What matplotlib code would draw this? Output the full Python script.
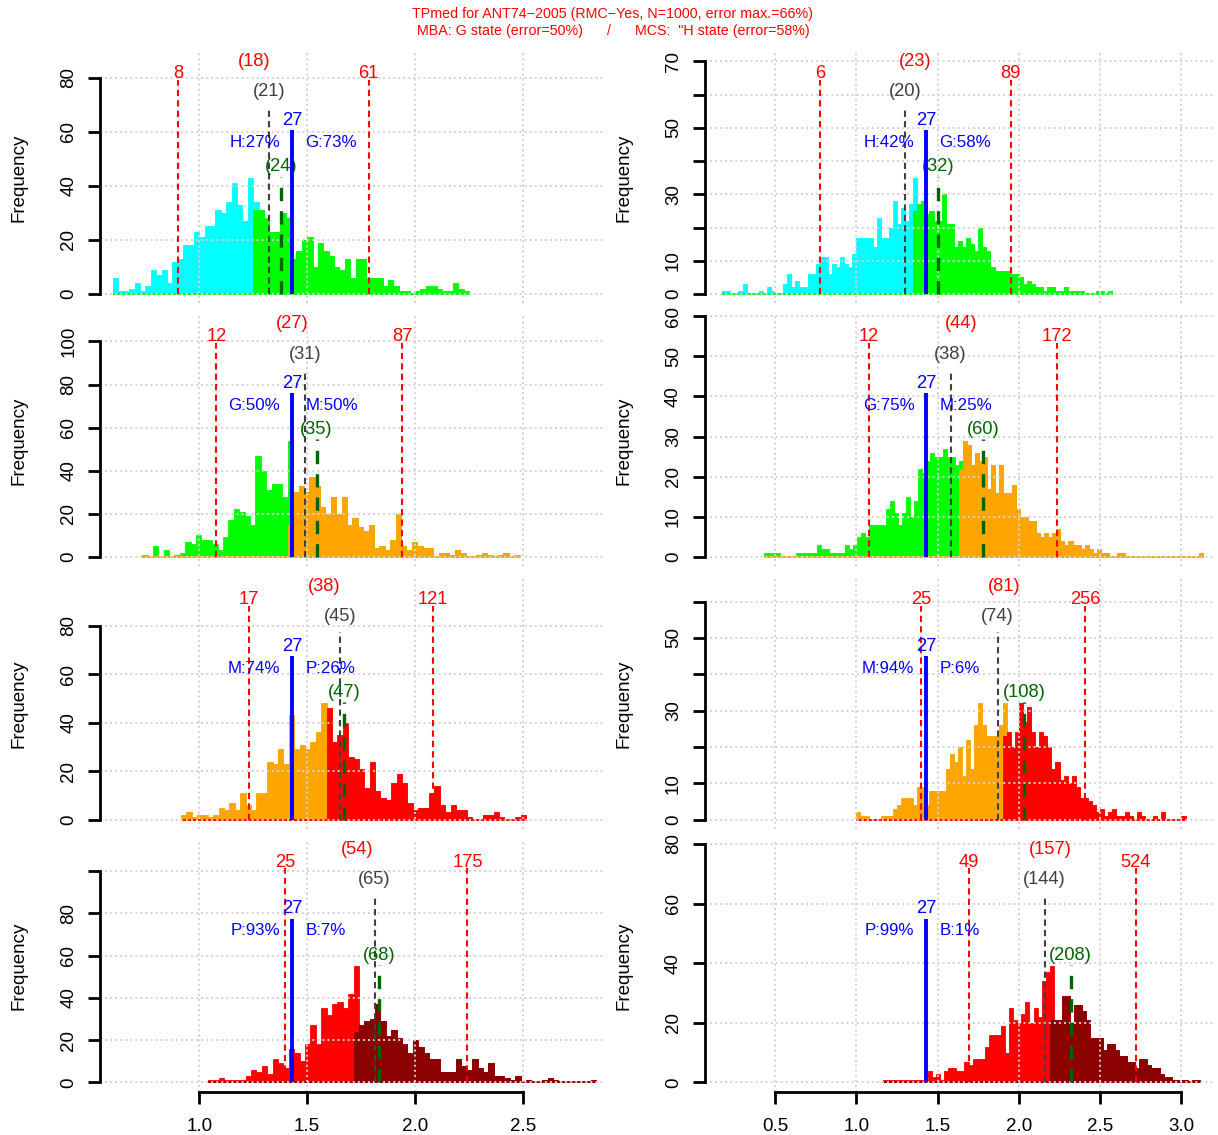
import numpy as np
import matplotlib
matplotlib.use("Agg")
import matplotlib.pyplot as plt
from matplotlib.transforms import offset_copy

plt.rcParams["font.family"] = ["Liberation Sans", "DejaVu Sans"]

W, H, DPI = 1218, 1135, 100
BIN_W = 0.025  # histogram bin width on the log10 axis

# ── data (panels in reading order: MBA left / MCS right, one row per state pair) ──
bin_start = [0.60, 0.175, 0.735, 0.43, 0.915, 1.0, 1.04, 1.165]

counts_hg_mba = [6, 1, 1, 2, 4, 1, 3, 9, 7, 9, 4, 12, 13, 18, 18, 23, 21, 25, 25, 31,
                 30, 34, 41, 33, 27, 43, 34, 31, 28, 23, 23, 30, 28, 13, 16, 20, 21, 10,
                 19, 16, 14, 10, 9, 13, 6, 13, 13, 6, 6, 6, 3, 5, 3, 1, 1, 0, 1, 2, 3, 3,
                 2, 1, 1, 4, 2, 1]
counts_hg_mcs = [1, 1, 0, 0, 1, 3, 0, 0, 0, 1, 0, 2, 1, 0, 0, 3, 6, 2, 4, 2, 2, 6, 6, 9,
                 11, 11, 6, 9, 8, 11, 9, 8, 12, 17, 17, 17, 17, 14, 23, 17, 17, 20, 28,
                 21, 26, 22, 27, 35, 27, 28, 24, 25, 22, 22, 30, 21, 21, 14, 16, 14, 17,
                 15, 13, 20, 14, 13, 8, 7, 7, 7, 7, 6, 6, 5, 3, 4, 3, 2, 2, 1, 2, 2, 1, 1,
                 2, 1, 1, 1, 1, 0, 0, 0, 1, 1, 0, 1]
counts_gm_mba = [1, 0, 5, 0, 3, 0, 1, 2, 7, 6, 10, 8, 8, 6, 3, 9, 17, 22, 21, 19, 15, 47,
                 40, 31, 34, 34, 28, 54, 30, 33, 30, 37, 33, 23, 20, 28, 20, 28, 15, 18,
                 14, 12, 15, 4, 5, 3, 8, 20, 5, 3, 7, 5, 4, 4, 0, 2, 2, 1, 3, 2, 0, 0, 1,
                 2, 1, 0, 1, 2, 0, 1]
counts_gm_mcs = [1, 1, 1, 1, 0, 0, 0, 0, 1, 1, 1, 1, 1, 3, 2, 2, 1, 1, 1, 1, 3, 2, 3, 5,
                 6, 5, 8, 8, 8, 8, 12, 14, 11, 8, 11, 15, 10, 14, 22, 21, 24, 26, 25, 25,
                 27, 25, 25, 23, 24, 29, 28, 23, 26, 24, 25, 17, 23, 16, 23, 16, 16, 18,
                 12, 10, 10, 9, 9, 6, 5, 6, 5, 6, 7, 4, 3, 4, 3, 3, 2, 3, 2, 1, 2, 1, 1, 0,
                 0, 1, 1, 0, 0, 0, 0, 0, 0, 0, 0, 0, 0, 0, 0, 0, 0, 0, 0, 0, 0, 1]
counts_mp_mba = [2, 3, 1, 2, 2, 1, 2, 5, 4, 7, 4, 11, 6, 4, 11, 11, 24, 23, 29, 23, 43,
                 29, 31, 29, 32, 36, 48, 46, 32, 35, 40, 26, 25, 21, 13, 24, 12, 9, 8, 15,
                 19, 15, 7, 4, 5, 5, 11, 14, 6, 3, 6, 4, 4, 1, 0, 0, 2, 2, 3, 1, 0, 0, 1, 2]
counts_mp_mcs = [2, 1, 1, 0, 0, 0, 1, 1, 1, 3, 4, 6, 6, 6, 4, 9, 9, 4, 8, 8, 8, 8, 14, 18,
                 16, 20, 12, 22, 14, 26, 32, 26, 23, 23, 23, 26, 32, 24, 20, 24, 32, 27,
                 31, 24, 20, 24, 23, 20, 14, 16, 11, 12, 10, 12, 9, 6, 6, 5, 4, 2, 3, 1,
                 2, 3, 1, 1, 2, 1, 0, 2, 1, 0, 0, 1, 0, 2, 0, 0, 0, 0, 1]
counts_pb_mba = [1, 1, 2, 1, 1, 1, 1, 3, 6, 5, 8, 4, 11, 9, 7, 16, 14, 10, 18, 27, 18, 35,
                 32, 37, 38, 35, 42, 55, 27, 29, 30, 37, 29, 22, 25, 21, 18, 14, 20, 17,
                 14, 11, 11, 5, 5, 5, 11, 8, 6, 11, 7, 5, 9, 3, 3, 2, 1, 3, 0, 1, 0, 0, 1,
                 2, 1, 0, 0, 0, 0, 0, 0, 1]
counts_pb_mcs = [1, 1, 1, 1, 1, 1, 1, 1, 1, 1, 1, 4, 2, 3, 1, 4, 5, 5, 4, 4, 7, 6, 8, 8,
                 8, 12, 16, 16, 16, 19, 10, 25, 21, 20, 23, 27, 20, 25, 22, 34, 37, 39, 21,
                 21, 29, 29, 20, 26, 26, 24, 21, 15, 15, 15, 11, 13, 13, 11, 9, 9, 7, 7, 5,
                 8, 8, 6, 5, 5, 3, 2, 2, 1, 1, 1, 1, 0, 1, 1]
COUNTS = [counts_hg_mba, counts_hg_mcs, counts_gm_mba, counts_gm_mcs,
          counts_mp_mba, counts_mp_mcs, counts_pb_mba, counts_pb_mcs]

# upper-state count inside the bin that holds the split value
split_upper = [31, 25, 15, 22, 0, 23, 24, 21]

lo_vals = [8, 6, 12, 12, 17, 25, 25, 49]
hi_vals = [61, 89, 87, 172, 121, 256, 175, 524]
split_vals = [18, 23, 27, 44, 38, 81, 54, 157]
grey_vals = [21, 20, 31, 38, 45, 74, 65, 144]
green_vals = [24, 32, 35, 60, 47, 108, 68, 208]
BLUE_VAL = 27
low_state = ["H", "H", "G", "G", "M", "M", "P", "P"]
high_state = ["G", "G", "M", "M", "P", "P", "B", "B"]
low_pct = [27, 42, 50, 75, 74, 94, 93, 99]
high_pct = [73, 58, 50, 25, 26, 6, 7, 1]

ystep = [20, 10, 20, 10, 20, 10, 20, 20]
ytick_shown = [[0, 20, 40, 60, 80], [0, 10, 30, 50, 70],
               [0, 20, 40, 60, 80, 100], [0, 10, 20, 30, 40, 50, 60],
               [0, 20, 40, 60, 80], [0, 10, 30, 50],
               [0, 20, 40, 60, 80], [0, 20, 40, 60, 80]]
xticks_col = [[1.0, 1.5, 2.0, 2.5], [0.5, 1.0, 1.5, 2.0, 2.5, 3.0]]

title1 = "TPmed for ANT74\u22122005 (RMC\u2212Yes, N=1000, error max.=66%)"
title2 = 'MBA: G state (error=50%)      /      MCS:  "H state (error=58%)'

# ── layout / style ───────────────────────────────────────────────────────
ROW_COLORS = [("#00FFFF", "#00FF00"), ("#00FF00", "#FFA500"),
              ("#FFA500", "#FF0000"), ("#FF0000", "#8B0000")]
PX_M = 116.3                      # pixels for the tallest bar
ROW_ZERO = [294 + 262.83 * i for i in range(4)]
COLS = [(100, 605, 0.5396, 2.881), (704.5, 1214, 0.066, 3.20)]
GREY = "#404040"
FS_AX, FS_NUM, FS_PCT = 13.5, 13.2, 12.2
GRID_KW = dict(color="#D3D3D3", lw=1.4, ls=(0, (1, 1.6)), zorder=2.5)


def panel(fig, k):
    row, col = divmod(k, 2)
    px0, px1, xlo, xhi = COLS[col]
    zero = ROW_ZERO[row]
    top, bot = zero - 2.08 * PX_M, zero + 0.08 * PX_M
    ax = fig.add_axes([px0 / W, 1 - bot / H, (px1 - px0) / W, (bot - top) / H])
    ax.patch.set_alpha(0)

    counts = np.asarray(COUNTS[k], float)
    m = counts.max()
    ax.set_xlim(xlo, xhi)
    ax.set_ylim(-0.08 * m, 2.08 * m)
    for sp in ax.spines.values():
        sp.set_visible(False)

    c_lo, c_hi = ROW_COLORS[row]
    edges = bin_start[k] + BIN_W * np.arange(len(counts))
    s = int((np.log10(split_vals[k]) - bin_start[k]) // BIN_W)
    upper = counts.copy()
    upper[:s] = 0
    upper[s] = split_upper[k]

    ax.bar(edges, counts, width=BIN_W, align="edge", color=c_lo,
           edgecolor=c_lo, lw=0.6, zorder=2)
    keep = upper > 0
    ax.bar(edges[keep], upper[keep], width=BIN_W, align="edge", color=c_hi,
           edgecolor=c_hi, lw=0.6, zorder=2.1)
    ax.plot([edges[0], edges[-1] + BIN_W], [0, 0], color=c_hi, lw=1.3,
            zorder=2.2, solid_capstyle="butt")

    # grid
    yt = np.arange(0, 2.08 * m, ystep[k])
    for v in xticks_col[col]:
        ax.axvline(v, **GRID_KW)
    for v in yt:
        ax.axhline(v, **GRID_KW)

    # y axis
    ax.spines["left"].set_visible(True)
    ax.spines["left"].set_bounds(0, yt[-1])
    ax.spines["left"].set_linewidth(2)
    ax.set_yticks(yt)
    ax.set_yticklabels([])
    ax.tick_params(axis="y", length=8.6, width=2)
    tr = offset_copy(ax.get_yaxis_transform(), fig=fig, x=-31, units="dots")
    for v in yt:
        if int(v) in ytick_shown[k]:
            ax.text(0, v, f"{v:g}", transform=tr, rotation=90, ha="center",
                    va="center", fontsize=FS_AX)
    ax.text(0, 0.5, "Frequency", rotation=90, ha="center", va="center",
            fontsize=FS_AX,
            transform=offset_copy(ax.transAxes, fig=fig, x=-81, units="dots"))

    # x axis only on the bottom row
    xt = xticks_col[col]
    if row == 3:
        ax.spines["bottom"].set_visible(True)
        ax.spines["bottom"].set_bounds(xt[0], xt[-1])
        ax.spines["bottom"].set_linewidth(2)
        ax.set_xticks(xt)
        ax.set_xticklabels([])
        ax.tick_params(axis="x", length=8.6, width=2)
        trx = offset_copy(ax.get_xaxis_transform(), fig=fig, y=-35, units="dots")
        for v in xt:
            ax.text(v, 0, f"{v:.1f}", transform=trx, ha="center", va="center",
                    fontsize=FS_AX)
    else:
        ax.set_xticks([])

    # marker lines
    lg = np.log10
    for v in (lo_vals[k], hi_vals[k]):
        ax.plot([lg(v)] * 2, [0, 1.84 * m], color="red", lw=1.5,
                ls=(0, (3, 2)), zorder=3)
        ax.text(lg(v), 1.893 * m, f"{v}", color="red", fontsize=FS_NUM,
                ha="center", va="center")
    ax.text(lg(split_vals[k]), 2.003 * m, f"({split_vals[k]})", color="red",
            fontsize=FS_NUM, ha="center", va="center")
    ax.plot([lg(grey_vals[k])] * 2, [0, 1.61 * m], color=GREY, lw=1.5,
            ls=(0, (3, 2)), zorder=3)
    ax.text(lg(grey_vals[k]), 1.743 * m, f"({grey_vals[k]})", color=GREY,
            fontsize=FS_NUM, ha="center", va="center")
    xb = lg(BLUE_VAL)
    ax.plot([xb, xb], [0, 1.41 * m], color="blue", lw=2.8, zorder=3.2,
            solid_capstyle="butt")
    ax.text(xb, 1.493 * m, f"{BLUE_VAL}", color="blue", fontsize=FS_NUM,
            ha="center", va="center")
    ax.annotate(f"{low_state[k]}:{low_pct[k]}%", (xb, 1.303 * m), xytext=(-12, 0),
                textcoords="offset pixels", color="blue", fontsize=FS_PCT,
                ha="right", va="center")
    ax.annotate(f"{high_state[k]}:{high_pct[k]}%", (xb, 1.303 * m), xytext=(13, 0),
                textcoords="offset pixels", color="blue", fontsize=FS_PCT,
                ha="left", va="center")
    xg = lg(green_vals[k])
    ax.plot([xg, xg], [0, 1.01 * m], color="darkgreen", lw=2.4,
            ls=(0, (4, 3)), zorder=3.1)
    ax.text(xg, 1.093 * m, f"({green_vals[k]})", color="darkgreen",
            fontsize=FS_NUM, ha="center", va="center")
    return ax


fig = plt.figure(figsize=(W / DPI, H / DPI), dpi=DPI)
for k in range(8):
    panel(fig, k)
fig.text(613 / W, 1 - 14 / H, title1, color="red", fontsize=10.3,
         ha="center", va="center")
fig.text(613 / W, 1 - 31 / H, title2, color="red", fontsize=10.3,
         ha="center", va="center")
fig.savefig("out.png", dpi=DPI)
